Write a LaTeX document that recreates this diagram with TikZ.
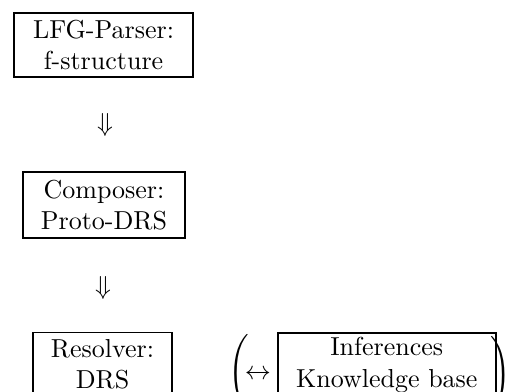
\documentclass[tikz,border=0pt]{standalone}
\begin{document}
\begin{tikzpicture}[x=0.3846pt,y=-0.3846pt,
  box/.style={draw,line width=0.7pt,inner sep=0pt,align=center,minimum height=24.6pt},
  sym/.style={inner sep=0pt}]
\useasboundingbox (0,0) rectangle (505,392);
\clip (0,0) rectangle (505,392);
\node[box,minimum width=68.8pt] (lfg) at (103.5,45) {LFG-Parser:\\f-structure};
\node[sym] (a1) at (105,125) {$\Downarrow$};
\node[box,minimum width=62.3pt,minimum height=25.4pt] (comp) at (104,205) {Composer:\\Proto-DRS};
\node[sym] (a2) at (103,288) {$\Downarrow$};
\node[box,minimum width=53.5pt] (res) at (102.5,364.5) {Resolver:\\DRS};
\node[sym] (lp) at (238.5,373) {$\Bigg($};
\node[sym] (lr) at (258,375) {$\leftrightarrow$};
\node[box,minimum width=84pt] (inf) at (386.8,365) {Inferences\\Knowledge base};
\node[sym] (rp) at (501,375) {$\Bigg)$};
\end{tikzpicture}
\end{document}
